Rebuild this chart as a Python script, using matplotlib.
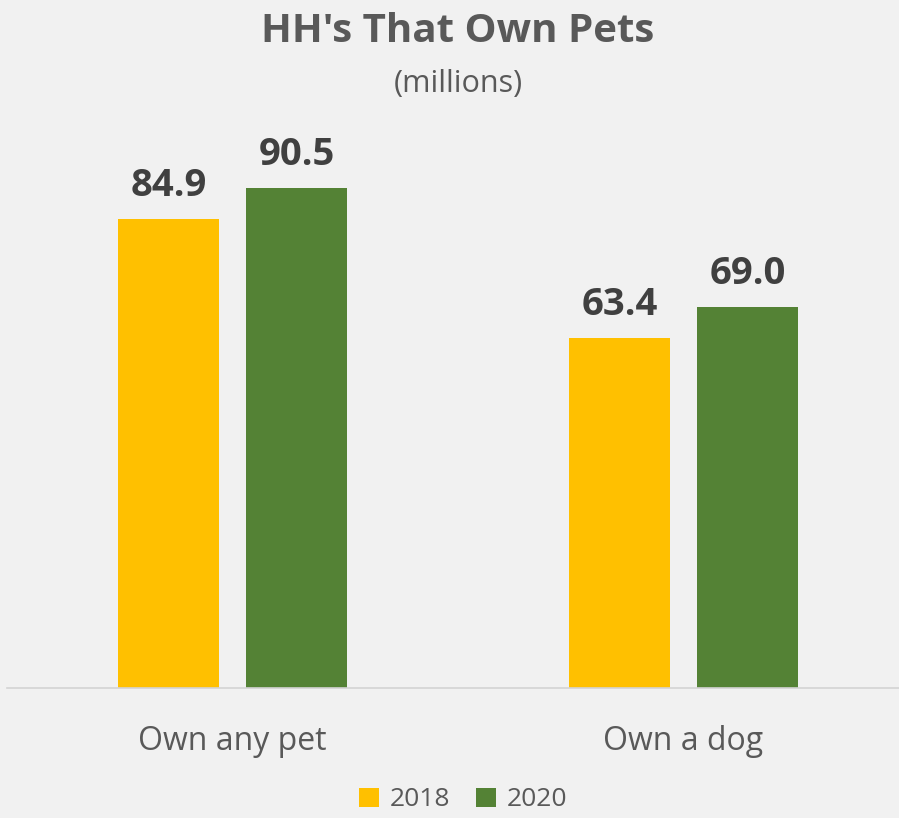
import numpy as np
import matplotlib.pyplot as plt

categories = ['Own any pet', 'Own a dog']
years = ['2018', '2020']
values_2018 = [84.9, 63.4]
values_2020 = [90.5, 69.0]

colors = {'2018': '#FFC000', '2020': '#548235'}
bg = '#f1f1f1'

plt.rcParams['font.family'] = ['Open Sans', 'DejaVu Sans']

fig = plt.figure(figsize=(8.99, 8.18), dpi=100, facecolor=bg)
ax = fig.add_axes([7 / 899, 130 / 818, 902 / 899, 552.4 / 818])
ax.set_facecolor('none')

x = np.arange(len(categories))
width = 0.224
offset = 0.142

bars_a = ax.bar(x - offset, values_2018, width, color=colors['2018'], label='2018')
bars_b = ax.bar(x + offset, values_2020, width, color=colors['2020'], label='2020')

for bars, vals in ((bars_a, values_2018), (bars_b, values_2020)):
    for b, v in zip(bars, vals):
        ax.annotate(f'{v:.1f}', (b.get_x() + b.get_width() / 2, v),
                    xytext=(0, 10), textcoords='offset points',
                    ha='center', va='bottom', fontsize=27.5,
                    fontweight='bold', color='#404040')

ax.set_xlim(-0.5, 1.5)
ax.set_ylim(0, 100)
ax.set_yticks([])
ax.set_xticks(x)
ax.set_xticklabels(categories, fontsize=23, color='#595959')
ax.tick_params(axis='x', length=0, pad=27)
for side in ('top', 'right', 'left'):
    ax.spines[side].set_visible(False)
ax.spines['bottom'].set_color('#d4d4d4')
ax.spines['bottom'].set_linewidth(1.2)

fig.text(458 / 899, 1 - 31 / 818, "HH's That Own Pets", ha='center', va='center',
         fontsize=29, fontweight='bold', color='#595959')
fig.text(458 / 899, 1 - 84 / 818, '(millions)', ha='center', va='center',
         fontsize=22, color='#595959')

leg = fig.legend(loc='center', bbox_to_anchor=(463 / 899, 1 - 800 / 818), ncol=2,
                 frameon=False, fontsize=19, handlelength=0.75, handleheight=0.75,
                 handletextpad=0.4, columnspacing=1.0, labelcolor='#595959')

fig.savefig('out.png', dpi=100, facecolor=bg)
